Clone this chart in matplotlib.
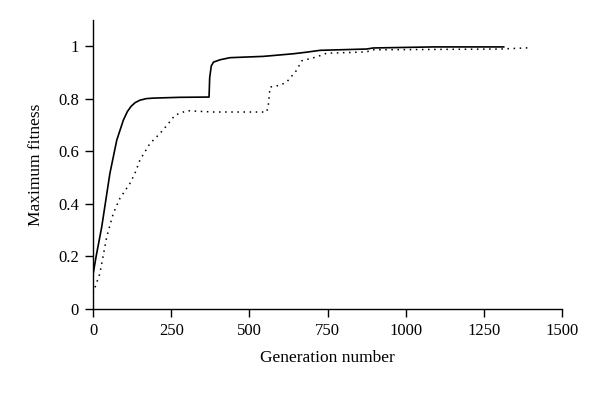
import matplotlib.pyplot as plt
from matplotlib.ticker import FuncFormatter

plt.rcParams['font.family'] = ['Liberation Serif', 'DejaVu Serif']

# run 1 (solid line)
gen_a = [0, 10, 28, 54, 76, 97, 110, 122, 135, 150, 170, 193, 278, 371, 373, 378,
         385, 406, 438, 545, 641, 683, 726, 875, 896, 1088, 1313]
fit_a = [0.13, 0.2, 0.313, 0.516, 0.643, 0.719, 0.752, 0.772, 0.786, 0.795, 0.801,
         0.803, 0.806, 0.807, 0.88, 0.925, 0.94, 0.949, 0.957, 0.962, 0.972, 0.978,
         0.985, 0.99, 0.994, 0.998, 0.998]

# run 2 (dotted line)
gen_b = [0, 22, 44, 65, 86, 118, 134, 150, 182, 214, 241, 262, 300, 385, 555, 560,
         566, 598, 619, 651, 667, 715, 747, 875, 891, 1302, 1400]
fit_b = [0.06, 0.135, 0.275, 0.364, 0.421, 0.478, 0.516, 0.567, 0.630, 0.668, 0.706,
         0.738, 0.755, 0.75, 0.75, 0.77, 0.845, 0.852, 0.864, 0.909, 0.945, 0.96,
         0.974, 0.979, 0.987, 0.99, 0.995]

x_ticks = [0, 250, 500, 750, 1000, 1250, 1500]
y_ticks = [0, 0.2, 0.4, 0.6, 0.8, 1.0]

fig = plt.figure(figsize=(6, 3.95), dpi=100)
ax = fig.add_axes([0.155, 0.218, 0.782, 0.731])

ax.plot(gen_a, fit_a, color='black', lw=1.2)
ax.plot(gen_b, fit_b, color='black', lw=1.1, linestyle=(0, (1, 3)))

ax.set_xlim(0, 1500)
ax.set_ylim(0, 1.1)
ax.set_xticks(x_ticks)
ax.set_yticks(y_ticks)
ax.yaxis.set_major_formatter(FuncFormatter(lambda v, p: '%g' % v))

for s in ['top', 'right']:
    ax.spines[s].set_visible(False)
for s in ['left', 'bottom']:
    ax.spines[s].set_linewidth(1.0)

ax.tick_params(direction='out', length=6, width=1.0, labelsize=12, pad=4)
ax.set_xlabel('Generation number', fontsize=12.5, labelpad=8)
ax.set_ylabel('Maximum fitness', fontsize=12.5, labelpad=10)

fig.savefig('out.png', dpi=100)
